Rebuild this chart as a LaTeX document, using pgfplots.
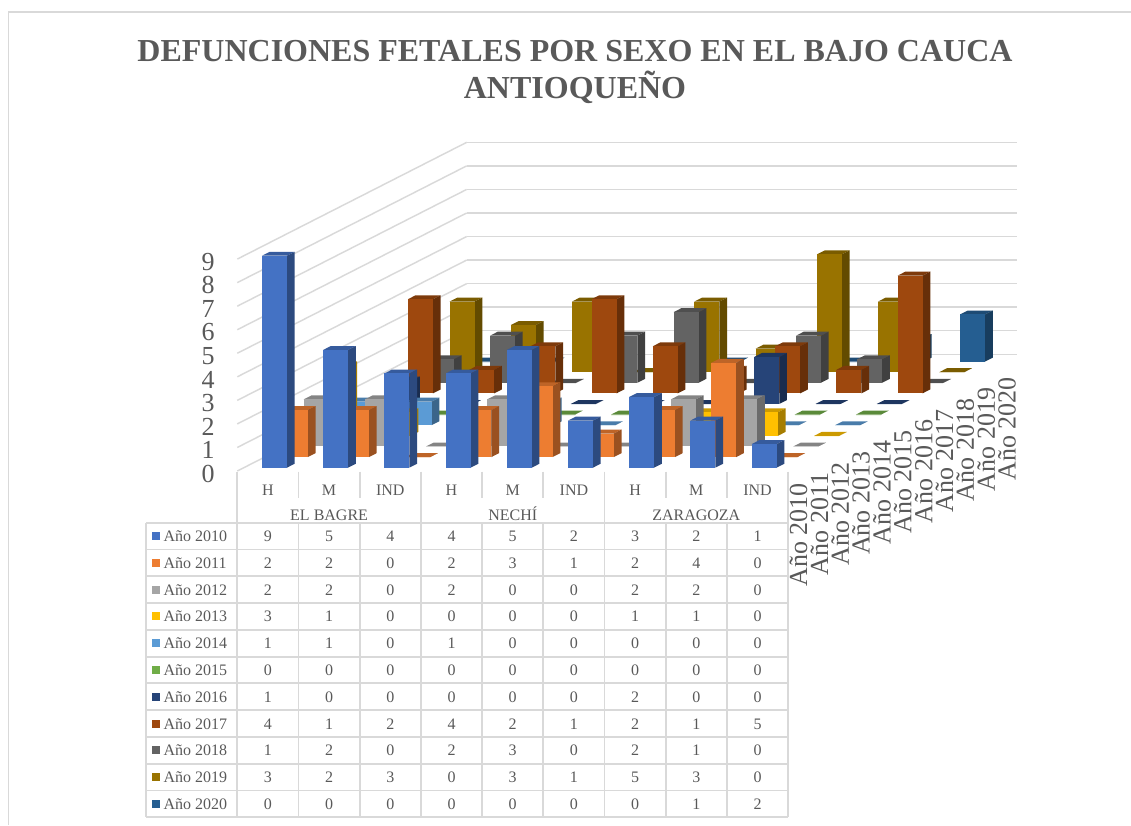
\documentclass[border=0pt]{standalone}
\usepackage{fontspec}
\setmainfont{Liberation Serif}
\usepackage{pgfplots}
\usepackage{pgfplotstable}
\pgfplotsset{compat=1.18}

\definecolor{txt}{HTML}{595959}
\definecolor{rule}{HTML}{D9D9D9}
\definecolor{c0}{HTML}{4472C4}
\definecolor{c1}{HTML}{ED7D31}
\definecolor{c2}{HTML}{A5A5A5}
\definecolor{c3}{HTML}{FFC000}
\definecolor{c4}{HTML}{5B9BD5}
\definecolor{c5}{HTML}{70AD47}
\definecolor{c6}{HTML}{264478}
\definecolor{c7}{HTML}{9E480E}
\definecolor{c8}{HTML}{636363}
\definecolor{c9}{HTML}{997300}
\definecolor{c10}{HTML}{255E91}
\colorlet{top0}{c0!80!black}\colorlet{side0}{c0!65!black}
\colorlet{top1}{c1!80!black}\colorlet{side1}{c1!65!black}
\colorlet{top2}{c2!80!black}\colorlet{side2}{c2!65!black}
\colorlet{top3}{c3!80!black}\colorlet{side3}{c3!65!black}
\colorlet{top4}{c4!80!black}\colorlet{side4}{c4!65!black}
\colorlet{top5}{c5!80!black}\colorlet{side5}{c5!65!black}
\colorlet{top6}{c6!80!black}\colorlet{side6}{c6!65!black}
\colorlet{top7}{c7!80!black}\colorlet{side7}{c7!65!black}
\colorlet{top8}{c8!80!black}\colorlet{side8}{c8!65!black}
\colorlet{top9}{c9!80!black}\colorlet{side9}{c9!65!black}
\colorlet{top10}{c10!80!black}\colorlet{side10}{c10!65!black}

% rows: 2010 ... 2020, columns: H M IND for each municipality
\pgfplotstableread{
a b c d e f g h i
9 5 4 4 5 2 3 2 1
2 2 0 2 3 1 2 4 0
2 2 0 2 0 0 2 2 0
3 1 0 0 0 0 1 1 0
1 1 0 1 0 0 0 0 0
0 0 0 0 0 0 0 0 0
1 0 0 0 0 0 2 0 0
4 1 2 4 2 1 2 1 5
1 2 0 2 3 0 2 1 0
3 2 3 0 3 1 5 3 0
0 0 0 0 0 0 0 1 2
}\deaths

\newcommand{\cellfont}{\fontsize{12}{14}\selectfont}
\newcommand{\bigfont}{\fontsize{19.5}{22}\selectfont}

\begin{document}
\begin{tikzpicture}[x=0.75pt,y=-0.75pt]
\useasboundingbox (0,0) rectangle (1131,825);

% frame
\draw[rule,line width=1.2pt] (8.3,825) -- (8.3,11.7) -- (1131,11.7);

% title
\node[text=txt,align=center,font=\fontsize{24}{27.75}\selectfont\bfseries,anchor=center]
  at (575,72) {DEFUNCIONES FETALES POR SEXO EN EL BAJO CAUCA\\ANTIOQUEÑO};

\begin{axis}[
    at={(177.975pt,-353.25pt)},
    anchor=origin,
    x={(45.9pt,0pt)},
    y={(15.64pt,7.96pt)},
    z={(0pt,17.66pt)},
    xmin=0, xmax=9,
    ymin=0, ymax=11,
    zmin=0, zmax=9,
    xtick=\empty,
    ytick={0.5,1.5,2.5,3.5,4.5,5.5,6.5,7.5,8.5,9.5,10.5},
    yticklabels={Año 2010,Año 2011,Año 2012,Año 2013,Año 2014,Año 2015,Año 2016,Año 2017,Año 2018,Año 2019,Año 2020},
    ztick={0,...,9},
    zmajorgrids=true,
    major grid style={rule,line width=1.1pt},
    axis line style={draw=none},
    tick style={draw=none},
    ticklabel style={text=txt,font=\bigfont},
    /pgf/number format/assume math mode=true,
    yticklabel style={yshift=-9.75pt,rotate=90,anchor=east},
    zticklabel style={xshift=-13.5pt},
    clip=false,
  ]
  \pgfplotsforeachungrouped \s in {10,9,...,0}{
    \pgfplotsforeachungrouped \c in {0,...,8}{
      \pgfplotstablegetelem{\s}{[index]\c}\of\deaths
      \let\v\pgfplotsretval
      \pgfmathsetmacro\xa{\c+0.296}
      \pgfmathsetmacro\xb{\c+0.704}
      \pgfmathsetmacro\ya{\s+0.315}
      \pgfmathsetmacro\yb{\s+0.685}
      \edef\temp{%
        \noexpand\addplot3[forget plot,mark=none,draw=none,fill=top\s] coordinates {(\xa,\ya,\v)(\xb,\ya,\v)(\xb,\yb,\v)(\xa,\yb,\v)};
        \noexpand\addplot3[forget plot,mark=none,draw=none,fill=side\s] coordinates {(\xb,\ya,0)(\xb,\yb,0)(\xb,\yb,\v)(\xb,\ya,\v)};
        \noexpand\addplot3[forget plot,mark=none,draw=none,fill=c\s] coordinates {(\xa,\ya,0)(\xb,\ya,0)(\xb,\ya,\v)(\xa,\ya,\v)};
      }\temp
    }
  }
\end{axis}

% data table under the plot
\foreach \r in {0,...,11}
  \draw[rule,line width=1.35pt] (146,522.7+26.78*\r) -- (787.7,522.7+26.78*\r);
\draw[rule,line width=1.35pt] (146,522.7) -- (146,817.3);
\foreach \j in {0,...,9}{
  \draw[rule,line width=1.35pt] (237.3+61.2*\j,522.7) -- (237.3+61.2*\j,817.3);
  \draw[rule,line width=1.35pt] (237.3+61.2*\j,471.7) -- (237.3+61.2*\j,497.7);
}
\foreach \j in {0,3,6,9}
  \draw[rule,line width=1.35pt] (237.3+61.2*\j,497.7) -- (237.3+61.2*\j,522.7);

\foreach \j/\t in {0/H,1/M,2/IND,3/H,4/M,5/IND,6/H,7/M,8/IND}
  \node[text=txt,font=\cellfont,anchor=base,inner sep=0pt] at (237.3+61.2*\j+30.6,495.5) {\t};
\foreach \j/\t in {1/EL BAGRE,4/NECHÍ,7/ZARAGOZA}
  \node[text=txt,font=\cellfont,anchor=base,inner sep=0pt] at (237.3+61.2*\j+30.6,520.5) {\t};

\foreach \r/\y in {0/2010,1/2011,2/2012,3/2013,4/2014,5/2015,6/2016,7/2017,8/2018,9/2019,10/2020}{
  \fill[c\r] (152,536.1+26.78*\r-4) rectangle (160,536.1+26.78*\r+4);
  \node[text=txt,font=\cellfont,anchor=base west,inner sep=0pt] at (163.3,536.1+26.78*\r+5.5) {Año \y};
  \foreach \j in {0,...,8}{
    \pgfplotstablegetelem{\r}{[index]\j}\of\deaths
    \node[text=txt,font=\cellfont,anchor=base,inner sep=0pt] at (237.3+61.2*\j+30.6,536.1+26.78*\r+5.5) {\pgfplotsretval};
  }
}
\end{tikzpicture}
\end{document}
